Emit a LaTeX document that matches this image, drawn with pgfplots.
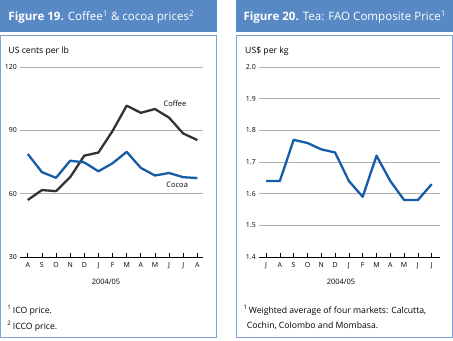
\documentclass[border=0pt]{standalone}
\usepackage{fontspec}
\setmainfont{Open Sans}
\usepackage{pgfplots}
\pgfplotsset{compat=1.18}

\definecolor{hdr}{RGB}{88,137,196}
\definecolor{bord}{RGB}{125,163,212}
\definecolor{serblue}{RGB}{22,92,166}
\definecolor{serdark}{RGB}{50,50,50}
\definecolor{gridc}{RGB}{175,175,175}

\pgfplotsset{
  panel/.style={
    scale only axis,
    axis x line*=bottom, axis y line*=left,
    y axis line style={draw=none},
    x axis line style={black, line width=0.8bp},
    ytick style={draw=none},
    xtick style={black, line width=0.7bp},
    tick align=inside, major tick length=4bp,
    ymajorgrids, grid style={gridc, line width=1bp},
    xtick={0,...,12},
    tick label style={font=\fontsize{7}{8}\selectfont},
    yticklabel style={inner sep=0pt, xshift=-3bp},
    xticklabel style={inner sep=0pt, yshift=-5.5bp},
    /pgf/number format/assume math mode=true,
    clip=false,
  },
  series/.style={line width=2.3bp, line join=round}
}

\begin{document}
\begin{tikzpicture}[x=1bp,y=1bp]
\useasboundingbox (0,0) rectangle (453,340);

% panel frames
\fill[hdr] (0,340) rectangle (216.7,308.3);
\draw[bord, line width=1bp] (0.5,305) rectangle (216.2,3);
\fill[hdr] (236,340) rectangle (453,308.3);
\draw[bord, line width=1bp] (236.5,305) rectangle (452.5,3);

\node[anchor=base west, text=white, inner sep=0, font=\fontsize{11.6}{14}\selectfont] at (8.3,319.5)
  {\textbf{Figure 19.} Coffee\textsuperscript{1} \& cocoa prices\textsuperscript{2}};
\node[anchor=base west, text=white, inner sep=0, font=\fontsize{11.6}{14}\selectfont] at (243.3,319.5)
  {\textbf{Figure 20.} Tea: FAO Composite Price\textsuperscript{1}};

\node[anchor=west, inner sep=0, font=\fontsize{8.7}{10}\selectfont] at (8.3,288.3) {US cents per lb};
\node[anchor=west, inner sep=0, font=\fontsize{8.7}{10}\selectfont] at (245,288.3) {US\$ per kg};

% coffee and cocoa
\begin{axis}[panel,
  at={(20bp,83bp)}, anchor=south west, width=183bp, height=190bp,
  xmin=-0.55, xmax=12.4, ymin=30, ymax=120,
  ytick={30,60,90,120},
  xticklabels={A,S,O,N,D,J,F,M,A,M,J,J,A},
]
\addplot[series, serdark] coordinates {
(0,57) (1,61.7) (2,61.2) (3,67.8) (4,78) (5,79.5) (6,89.7)
(7,101.7) (8,98.3) (9,100.1) (10,96) (11,88.5) (12,85.4)};
\addplot[series, serblue] coordinates {
(0,78.8) (1,70.2) (2,67.5) (3,75.6) (4,74.8) (5,70.6) (6,74.4)
(7,79.8) (8,72.2) (9,68.6) (10,69.8) (11,67.8) (12,67.4)};
\node[font=\fontsize{7.5}{9}\selectfont, anchor=west, inner sep=0] at (axis cs:9.6,102.5) {Coffee};
\node[font=\fontsize{7.5}{9}\selectfont, anchor=west, inner sep=0] at (axis cs:9.8,64.2) {Cocoa};
\end{axis}

% tea
\begin{axis}[panel,
  at={(259bp,83bp)}, anchor=south west, width=181bp, height=190bp,
  xmin=-0.51, xmax=12.6, ymin=1.4, ymax=2.0,
  ytick={1.4,1.5,...,2.0},
  yticklabel={\pgfmathprintnumber[fixed,fixed zerofill,precision=1]{\tick}},
  xticklabels={J,A,S,O,N,D,J,F,M,A,M,J,J},
]
\addplot[series, serblue] coordinates {
(0,1.64) (1,1.64) (2,1.77) (3,1.76) (4,1.74) (5,1.73) (6,1.64)
(7,1.59) (8,1.72) (9,1.64) (10,1.58) (11,1.58) (12,1.63)};
\end{axis}

\node[font=\fontsize{7.5}{9}\selectfont, inner sep=0] at (106,58.3) {2004/05};
\node[font=\fontsize{7.5}{9}\selectfont, inner sep=0] at (341,58.3) {2004/05};

% footnotes
\node[anchor=west, inner sep=0, font=\fontsize{8.7}{10}\selectfont] at (7.3,30) {\textsuperscript{1}\,ICO price.};
\node[anchor=west, inner sep=0, font=\fontsize{8.7}{10}\selectfont] at (7.3,14) {\textsuperscript{2}\,ICCO price.};
\node[anchor=west, inner sep=0, font=\fontsize{8.7}{10}\selectfont] at (243.3,30) {\textsuperscript{1}\,Weighted average of four markets: Calcutta,};
\node[anchor=west, inner sep=0, font=\fontsize{8.7}{10}\selectfont] at (246.7,14) {Cochin, Colombo and Mombasa.};
\end{tikzpicture}
\end{document}
